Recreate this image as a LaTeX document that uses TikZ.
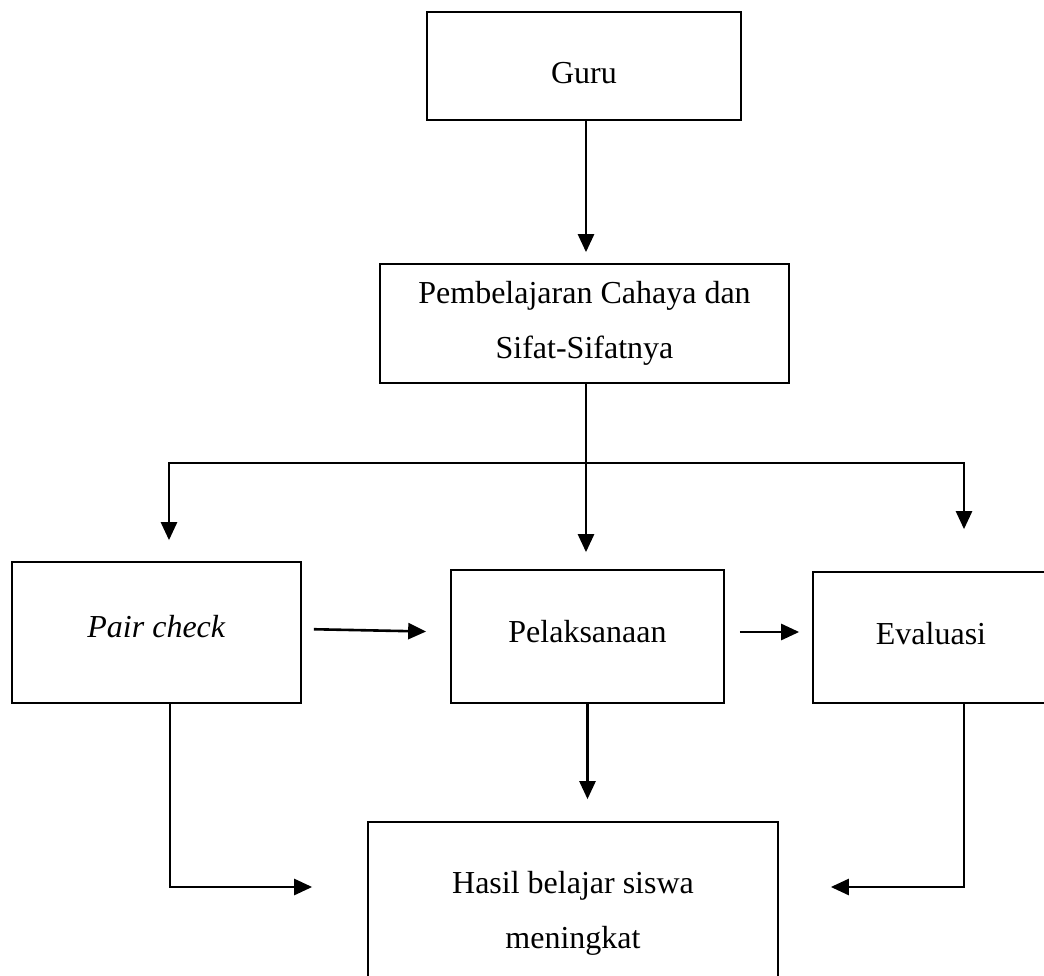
\documentclass[tikz,border=0pt]{standalone}
\usepackage{fontspec}
\setmainfont{Liberation Serif}
\usetikzlibrary{arrows.meta,calc}
\newcommand{\shiftit}[2]{\raisebox{#1}[\height][\depth]{#2}}
\begin{document}
\begin{tikzpicture}[x=1pt,y=-1pt,
  boxnode/.style={draw,line width=1.7pt,inner sep=0pt,align=center,
    font=\fontsize{32}{55}\selectfont},
  arr/.style={line width=2.6pt,-{Triangle[length=18pt,width=16pt]}},
  conn/.style={line width=2.2pt}]
\useasboundingbox (0,0) rectangle (1044,976);
\node[boxnode,minimum width=314pt,minimum height=108pt] (guru) at (584,66) {\shiftit{-7pt}{Guru}};
\node[boxnode,minimum width=409pt,minimum height=119pt] (pem) at (584.5,323.5) {Pembelajaran Cahaya dan\\Sifat-Sifatnya};
\node[boxnode,minimum width=289pt,minimum height=141pt] (pair) at (156.5,632.5) {\shiftit{6pt}{\textit{Pair check}}};
\node[boxnode,minimum width=273pt,minimum height=133pt] (pel) at (587.5,636.5) {\shiftit{5pt}{Pelaksanaan}};
\node[boxnode,minimum width=236pt,minimum height=131pt] (eva) at (931,637.5) {\shiftit{4pt}{Evaluasi}};
\node[boxnode,minimum width=410pt,minimum height=183pt] (hasil) at (573,913.5) {Hasil belajar siswa\\meningkat};
% Guru -> Pembelajaran
\draw[arr,shorten >=11pt] ([xshift=2pt]guru.south) -- ([xshift=2pt]guru.south |- pem.north);
% Pembelajaran -> Pelaksanaan, branches
\coordinate (jl) at (169,463);
\coordinate (jr) at (964,463);
\draw[conn] (jl) -- (jr);
\draw[arr,shorten >=17pt] ([xshift=1.5pt]pem.south) -- ([xshift=1.5pt]pem.south |- pel.north);
\draw[arr,shorten >=21pt] ([yshift=1pt]jl) -- (jl |- pair.north);
\draw[arr,shorten >=42pt] ([yshift=1pt]jr) -- (jr |- eva.north);
% horizontal arrows
\draw[arr,shorten <=12pt,shorten >=24pt] ([yshift=3.5pt]pair.east) -- ([yshift=4.5pt]pel.west);
\draw[arr,shorten <=15pt,shorten >=13pt] ([yshift=4.5pt]pel.east) -- ([yshift=5.5pt]eva.west);
% Pelaksanaan -> Hasil
\draw[arr,shorten >=22pt] (pel.south) -- (pel.south |- hasil.north);
% Pair check -> Hasil
\coordinate (cl) at (170,887);
\draw[arr,shorten >=55pt] (pair.south -| cl) -- (cl) -- (cl -| hasil.west);
% Evaluasi -> Hasil
\coordinate (cr) at (964,887);
\draw[arr,shorten >=52pt] (eva.south -| cr) -- (cr) -- (cr -| hasil.east);
\end{tikzpicture}
\end{document}
